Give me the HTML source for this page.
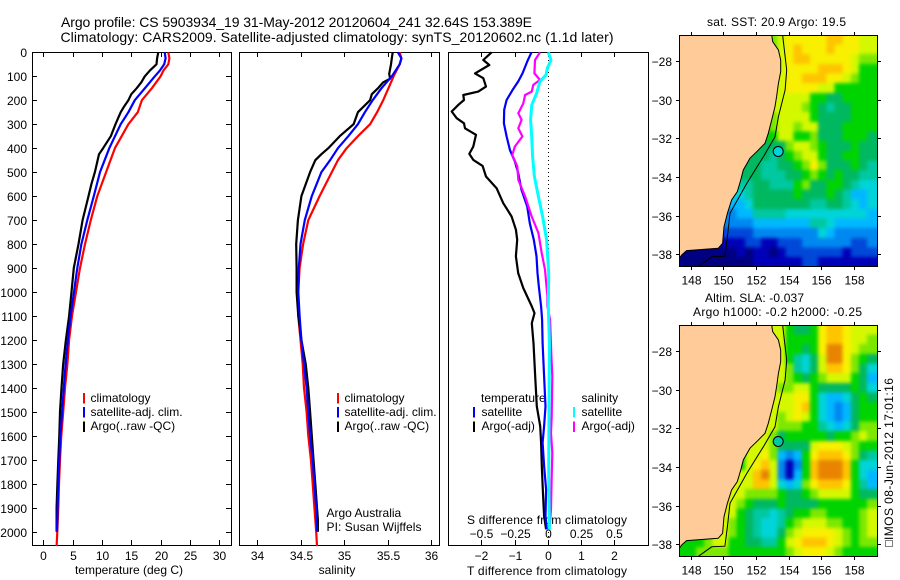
<!DOCTYPE html>
<html lang="en">
<head>
<meta charset="utf-8">
<title>Argo profile chart</title>
<style>
html,body{margin:0;padding:0;background:#fff;}
svg{display:block;}
text{font-family:"Liberation Sans",Arial,sans-serif;fill:#000;font-size:12px;}
.t{font-size:14px;}
</style>
</head>
<body>
<svg id="chart" xmlns="http://www.w3.org/2000/svg" width="900" height="580" viewBox="0 0 900 580">
<text class="t" x="61" y="27" textLength="471" lengthAdjust="spacing">Argo profile: CS 5903934_19 31-May-2012 20120604_241 32.64S 153.389E</text>
<text class="t" x="60.5" y="42" textLength="553" lengthAdjust="spacing">Climatology: CARS2009. Satellite-adjusted climatology: synTS_20120602.nc (1.1d later)</text>
<text x="129" y="574" text-anchor="middle">temperature (deg C)</text>
<text x="337" y="574" text-anchor="middle">salinity</text>
<text x="547" y="575" text-anchor="middle" textLength="160" lengthAdjust="spacing">T difference from climatology</text>
<text x="547" y="524" text-anchor="middle" textLength="160" lengthAdjust="spacing">S difference from climatology</text>
<text x="326.5" y="517">Argo Australia</text>
<text x="326.5" y="531" textLength="95" lengthAdjust="spacing">PI: Susan Wijffels</text>
<text x="90.5" y="402">climatology</text>
<text x="90.5" y="416">satellite-adj. clim.</text>
<text x="90.5" y="430">Argo(..raw -QC)</text>
<text x="344.5" y="402">climatology</text>
<text x="344.5" y="416">satellite-adj. clim.</text>
<text x="344.5" y="430">Argo(..raw -QC)</text>
<text x="481" y="402">temperature</text>
<text x="481.5" y="416">satellite</text>
<text x="481.5" y="430">Argo(-adj)</text>
<text x="581.5" y="402">salinity</text>
<text x="581.5" y="416">satellite</text>
<text x="581.5" y="430">Argo(-adj)</text>
<text x="707" y="26" textLength="139" lengthAdjust="spacing">sat. SST: 20.9 Argo: 19.5</text>
<text x="705" y="302" textLength="99" lengthAdjust="spacing">Altim. SLA: -0.037</text>
<text x="693" y="316" textLength="169" lengthAdjust="spacing">Argo h1000: -0.2 h2000: -0.25</text>
<text transform="translate(893,540) rotate(-90)" textLength="162" lengthAdjust="spacing">IMOS 08-Jun-2012 17:01:16</text>
<rect x="885.5" y="540.5" width="7" height="6" fill="none" stroke="#000" stroke-width="1" stroke-dasharray="1 1"/>
</svg>
<script>
const svgNS = 'http://www.w3.org/2000/svg';
// ---- temperature panel data (depth m, deg C)
const tempClimDepth = [0,25,50,75,100,150,200,250,300,400,500,600,700,800,900,1000,1100,1200,1300,1400,1500,1600,1700,1800,1900,2000,2060];
const tempClim = [21.3,21.5,21.3,20.5,20,18.5,16.8,16.1,14.5,12.2,10.7,9.2,8.1,7.1,6.25,5.57,4.9,4.4,4.1,3.7,3.4,3.07,2.84,2.67,2.56,2.39,2.27];
const tempSatDepth = [0,25,50,75,100,150,200,250,300,400,500,600,700,800,900,1000,1100,1200,1300,1400,1500,1600,1700,1800,1900,2000];
const tempSat = [20.7,20.85,20.6,19.9,19,17.3,15.6,14.5,13.2,11.25,9.66,8.6,7.5,6.5,5.8,5.23,4.66,4.2,3.8,3.5,3.2,2.9,2.73,2.56,2.44,2.33];
const tempArgoDepth = [0,25,50,75,100,125,150,175,200,225,250,300,350,400,425,500,550,600,700,800,900,1000,1100,1200,1300,1400,1500,1600,1700,1800,1900,2000];
const tempArgo = [19.6,19.4,19.3,18.2,17.3,16.7,15.9,15,14.5,13.8,13.2,12.3,11.5,10.2,9.5,8.8,8.2,7.7,6.7,6,5.2,4.8,4.4,3.86,3.4,3.1,2.84,2.72,2.56,2.4,2.27,2.27];
// ---- salinity panel data
const salClimDepth = [0,25,50,100,150,200,250,300,350,400,450,500,600,700,800,900,1000,1100,1200,1300,1400,1500,1600,1700,1800,1900,2000,2060];
const salClim = [35.64,35.66,35.64,35.57,35.51,35.45,35.38,35.3,35.16,35.03,34.93,34.86,34.72,34.59,34.53,34.49,34.475,34.475,34.5,34.525,34.54,34.57,34.59,34.62,34.64,34.66,34.68,34.69];
const salSatDepth = [0,25,50,100,150,200,250,300,350,400,450,500,600,700,800,900,1000,1100,1200,1300,1400,1500,1600,1700,1800,1900,2000];
const salSat = [35.62,35.66,35.64,35.55,35.43,35.33,35.24,35.16,35.05,34.93,34.84,34.74,34.63,34.55,34.5,34.48,34.475,34.49,34.51,34.54,34.57,34.59,34.61,34.64,34.66,34.68,34.69];
const salArgoDepth = [0,25,50,90,110,125,150,175,200,250,300,350,400,425,450,500,600,700,800,900,1000,1100,1200,1300,1400,1500,1600,1700,1800,1900,1950,2000];
const salArgo = [35.56,35.55,35.54,35.52,35.53,35.45,35.39,35.32,35.3,35.16,35.11,34.95,34.82,34.74,34.67,34.61,34.51,34.47,34.45,34.455,34.455,34.475,34.51,34.56,34.59,34.61,34.63,34.65,34.67,34.69,34.7,34.7];
// ---- difference panel data
const diffTArgoDepth = [0,32,53,88,108,143,164,178,199,219,247,275,296,317,344,393,424,449,474,518,567,629,685,740,782,851,921,983,1060,1088,1130,1213,1352,1477,1560,1629,1726,1824,1935,1990];
const diffTArgo = [-1.69,-1.94,-1.76,-2.19,-1.94,-1.86,-2.09,-2.54,-2.52,-2.69,-2.89,-2.74,-2.52,-2.49,-2.16,-2.24,-2.36,-2.24,-1.96,-1.86,-1.54,-1.34,-1.09,-0.96,-0.92,-0.96,-0.89,-0.74,-0.48,-0.4,-0.48,-0.43,-0.38,-0.33,-0.23,-0.2,-0.18,-0.15,-0.11,-0.05];
const diffTSatDepth = [0,39,88,122,157,199,240,296,351,407,456,504,574,643,713,782,851,921,976,1060,1115,1213,1352,1477,1560,1629,1726,1824,1935,1990];
const diffTSat = [-0.49,-0.62,-0.76,-0.89,-1.06,-1.24,-1.31,-1.32,-1.24,-1.14,-0.99,-0.89,-0.79,-0.62,-0.54,-0.42,-0.34,-0.31,-0.27,-0.2,-0.17,-0.155,-0.11,-0.07,-0.11,-0.155,-0.11,-0.05,-0.07,-0.03];
const diffSSatDepth = [0,32,67,94,122,171,219,282,351,435,518,601,685,782,921,1060,1213,1491,1769,1990];
const diffSSat = [0.004,0.024,-0.004,-0.013,-0.059,-0.084,-0.12,-0.129,-0.121,-0.114,-0.101,-0.071,-0.039,-0.009,0.007,0.004,0.012,0.009,0.007,0.012];
const diffSArgoDepth = [0,32,88,115,136,164,178,213,254,282,317,351,393,428,476,532,601,685,754,837,907,1018,1060,1115,1269,1352,1519,1588,1671,1769,1907,1990];
const diffSArgo = [-0.059,-0.096,-0.101,-0.059,-0.109,-0.121,-0.171,-0.184,-0.222,-0.197,-0.222,-0.191,-0.247,-0.267,-0.229,-0.222,-0.171,-0.121,-0.071,-0.046,-0.021,-0.003,-0.003,0.017,0.027,0.034,0.029,0.024,0.034,0.029,0.024,0.012];
// ---- tick values
const depthTicks = [0,100,200,300,400,500,600,700,800,900,1000,1100,1200,1300,1400,1500,1600,1700,1800,1900,2000];
const tempTicks = [0,5,10,15,20,25,30];
const salTicks = [34,34.5,35,35.5,36];
const diffTTicks = [-2,-1,0,1,2];
const diffSTicks = [-0.5,-0.25,0,0.25,0.5];
const lonTicks = [148,150,152,154,156,158];
const latTicks = [-28,-30,-32,-34,-36,-38];
// ---- map data: colour level per 0.5 degree cell, north to south, west to east
const sstGrid = [
[8,8,8,8,8,8,8,8,8,8,9,9,10,11,11,11,11,11,12,12,11,11,10,10],
[8,8,8,8,8,8,8,8,8,8,9,9,10,11,12,11,11,11,12,11,11,11,10,10],
[8,8,8,8,8,8,8,8,8,8,9,10,10,11,12,12,11,11,11,11,11,10,9,9],
[8,8,8,8,8,8,8,8,8,8,9,10,10,11,11,11,11,12,12,12,11,10,8,8],
[8,8,8,8,8,8,8,8,8,8,9,10,10,11,11,12,12,12,11,11,10,9,8,8],
[8,8,8,8,8,8,8,8,8,8,9,10,10,11,11,11,11,10,10,8,8,8,8,8],
[8,8,8,8,8,8,8,8,8,8,9,10,10,10,10,10,8,8,7,7,8,8,8,8],
[8,8,8,8,8,8,8,8,8,8,9,10,10,10,10,9,8,7,6,7,7,8,8,8],
[8,8,8,8,8,8,8,8,8,8,9,9,10,10,10,10,8,7,7,7,7,8,8,8],
[8,8,8,8,8,8,8,8,8,8,8,9,10,10,9,10,10,7,7,7,8,8,8,8],
[8,8,8,8,8,8,8,8,8,8,8,8,10,10,8,8,9,7,7,7,8,8,8,7],
[7,7,7,7,7,7,7,7,7,7,7,7,7,9,10,10,9,8,7,7,7,8,7,7],
[7,7,7,7,7,7,7,7,7,7,7,6,7,8,9,10,10,8,7,7,8,8,7,7],
[7,7,7,7,7,7,7,7,7,7,6,6,7,7,8,9,11,9,7,7,7,8,7,6],
[7,7,7,7,7,7,7,7,7,7,6,6,6,7,7,8,9,8,7,8,7,7,6,6],
[6,6,6,6,6,6,6,6,6,7,7,6,6,6,8,9,7,7,8,8,7,6,5,5],
[5,5,5,5,5,5,5,5,6,7,7,7,7,7,8,7,7,7,8,7,6,4,4,5],
[4,4,4,4,4,4,4,4,5,7,7,7,7,7,7,7,6,6,7,7,6,5,4,5],
[3,3,3,3,3,3,3,4,4,6,6,6,6,5,5,5,5,5,5,5,5,5,5,4],
[3,3,3,3,3,3,3,3,3,4,4,4,4,4,4,4,6,6,5,4,4,4,4,4],
[2,2,2,2,2,2,2,2,2,3,3,3,3,3,3,3,3,5,4,3,3,3,3,3],
[1,1,1,1,1,1,1,1,2,2,1,1,2,2,2,3,3,3,3,3,3,2,2,3],
[0,0,0,0,0,0,0,1,0,1,1,0,1,2,2,2,2,2,2,2,1,2,2,2],
[0,0,0,0,0,0,0,0,0,1,1,1,1,1,1,2,2,1,1,1,1,1,1,1]
];
const slaGrid = [
[8,8,8,8,8,8,8,8,8,10,10,10,10,8,7,7,8,11,12,12,11,10,10,10],
[8,8,8,8,8,8,8,8,8,10,10,10,10,8,8,8,8,11,12,12,11,10,10,9],
[8,8,8,8,8,8,8,8,8,10,10,10,10,8,8,7,8,11,13,13,11,10,9,9],
[8,8,8,8,8,8,8,8,8,10,10,10,10,8,6,5,7,10,13,13,11,9,8,7],
[8,8,8,8,8,8,8,8,8,10,10,10,10,9,6,5,7,10,12,12,11,9,7,5],
[8,8,8,8,8,8,8,8,8,10,10,10,10,9,8,7,8,9,10,10,10,8,7,4],
[8,8,8,8,8,8,8,8,8,10,10,10,9,9,10,10,8,7,7,7,7,8,7,5],
[8,8,8,8,8,8,8,8,8,10,10,10,10,10,11,11,8,5,4,4,5,7,8,7],
[8,8,8,8,8,8,8,8,8,10,10,10,10,10,11,12,8,5,4,3,4,7,8,8],
[8,8,8,8,8,8,8,8,8,10,10,10,9,10,11,10,8,5,4,3,4,7,8,8],
[8,8,8,8,8,8,8,8,8,10,10,10,9,9,9,8,8,6,5,4,5,7,9,9],
[8,8,8,8,8,8,8,8,10,10,10,9,7,8,8,8,8,8,7,8,8,9,10,9],
[8,8,8,8,8,8,8,8,10,10,10,9,7,7,7,7,10,11,11,11,10,9,8,8],
[8,8,8,8,8,8,8,8,10,10,11,9,4,3,4,8,11,12,12,12,11,9,7,6],
[8,8,8,8,8,8,8,8,10,11,12,10,3,1,3,8,12,13,13,13,12,8,5,5],
[8,8,8,8,8,8,8,10,10,12,13,10,3,1,4,8,12,13,13,13,12,8,5,4],
[8,8,8,8,8,8,10,10,10,12,12,10,5,4,5,9,11,12,12,12,11,8,6,4],
[8,8,8,8,8,10,10,10,9,9,9,9,8,7,7,8,9,10,10,10,10,8,7,7],
[8,8,8,8,8,10,10,9,8,7,7,7,8,7,7,7,7,8,8,8,8,8,8,9],
[8,8,8,8,10,10,10,8,7,6,6,5,6,7,8,8,9,9,8,8,8,8,9,10],
[8,8,8,8,10,10,9,8,7,6,5,5,6,8,9,10,10,10,9,9,8,8,9,10],
[8,8,8,8,10,10,9,8,7,6,5,5,7,9,10,11,11,11,11,10,9,8,9,10],
[8,8,8,9,10,10,8,8,7,7,6,6,8,10,11,12,12,12,11,10,9,8,9,9],
[8,8,9,9,9,9,8,8,8,8,8,8,8,9,10,11,11,11,10,9,8,8,8,8]
];
const coastLon = [152.97,153.03,153.38,153.52,153.52,153.38,153.27,153.17,152.97,152.76,152.56,152.05,151.64,151.23,151.07,150.86,150.51,150.25,150.04,149.96,149.69,147.75,147.45,147.3];
const coastLat = [-26.66,-27,-27.43,-27.95,-28.55,-29.16,-29.84,-30.36,-31.05,-31.74,-32.26,-32.69,-33.03,-33.64,-34.16,-34.76,-35.19,-35.88,-36.57,-37.43,-37.69,-37.81,-38.03,-38.21];
const isobathLon = [153.64,153.89,153.79,153.38,153.17,152.46,151.44,150.41,150.25,150.1,149.29,148.47];
const isobathLat = [-26.65,-28.47,-29.5,-30.88,-31.92,-32.95,-34.33,-35.88,-37.09,-38.1,-38.13,-38.62];
const argoLon = [153.37];
const argoLat = [-32.68];
const sstArgoLevel = [5];
const slaArgoLevel = [6];
const levelColors = ['#000080','#0000b8','#0048d8','#0088f0','#00b8ff','#00d4d8','#00c8a0','#00b860','#00d400','#7ce800','#d4f800','#f8f000','#ffc400','#e88400'];

const root = document.getElementById('chart');
const DEPTH_TOP = 52.3, DEPTH_SCALE = 0.2397;
const yDepth = d => DEPTH_TOP + DEPTH_SCALE * d;
const xTemp = v => 43.3 + 5.867 * v;
const xSal = v => 257 + 87 * (v - 34);
const xDT = v => 547.8 + 33.25 * v;
const xDS = v => 547.8 + 133 * v;

function mk(tag, name, attrs, parent) {
  const el = document.createElementNS(svgNS, tag);
  
  
  for (const k in attrs) el.setAttribute(k, attrs[k]);
  (parent || root).appendChild(el);
  return el;
}
function label(txt, x, y, anchor, name) {
  const el = mk('text', name, {x: x, y: y, 'text-anchor': anchor});
  el.textContent = txt;
  return el;
}
const fmt = v => String(v).replace('-', '\u2212');

function frame(x0, y0, x1, y1, name) {
  mk('rect', name, {x: x0 + .5, y: y0 + .5, width: x1 - x0, height: y1 - y0, fill: 'none', stroke: '#000', 'stroke-width': 1, 'shape-rendering': 'crispEdges'});
}
function line(x1, y1, x2, y2, name) {
  mk('line', name, {x1: x1, y1: y1, x2: x2, y2: y2, stroke: '#000', 'stroke-width': 1, 'shape-rendering': 'crispEdges'});
}
function profile(xFn, vals, depths, color, width, name) {
  const pts = vals.map((v, i) => xFn(v).toFixed(1) + ',' + yDepth(depths[i]).toFixed(1)).join(' ');
  mk('polyline', name, {points: pts, fill: 'none', stroke: color, 'stroke-width': width, 'stroke-linejoin': 'round'});
}
function legendBar(x, y, color, name) {
  mk('rect', name, {x: x, y: y, width: 2, height: 10.5, fill: color, 'shape-rendering': 'crispEdges'});
}

// panels
const FT = 52, FB = 545;
const panels = [[32, 231, 'temp'], [239, 439, 'sal'], [448, 648, 'diff']];
panels.forEach(p => frame(p[0], FT, p[1], FB, 'panel-frame-' + p[2]));

// depth axis
depthTicks.forEach(d => {
  const y = Math.round(yDepth(d)) + .5;
  label(String(d), 27, y + 4.5, 'end', 'depth-tick-label');
  if (d > 0) {
    line(32, y, 37, y, 'depth-tick-left');
    line(226, y, 231, y, 'depth-tick-right');
  }
});
function xAxis(ticks, xFn, axis, labelY, fmtFn) {
  ticks.forEach(v => {
    const x = Math.round(xFn(v)) + .5;
    line(x, FT, x, FT + 5, axis + '-tick-top');
    line(x, FB, x, FB - 5, axis + '-tick-bottom');
    label(fmtFn(v), x, labelY, 'middle', axis + '-tick-label');
  });
}
xAxis(tempTicks, xTemp, 'temperature', 560, fmt);
xAxis(salTicks, xSal, 'salinity', 560, fmt);
xAxis(diffTTicks, xDT, 't-difference', 560, fmt);
diffSTicks.forEach(v => {
  label(fmt(v), Math.round(xDS(v)) + .5, 538, 'middle', 's-difference-tick-label');
});

// series
profile(xTemp, tempClim, tempClimDepth, '#ff0000', 2.2, 'temperature-climatology-line');
profile(xTemp, tempArgo, tempArgoDepth, '#000000', 2.2, 'temperature-argo-line');
profile(xTemp, tempSat, tempSatDepth, '#0000ff', 2.2, 'temperature-satellite-line');
profile(xSal, salClim, salClimDepth, '#ff0000', 2.2, 'salinity-climatology-line');
profile(xSal, salArgo, salArgoDepth, '#000000', 2.2, 'salinity-argo-line');
profile(xSal, salSat, salSatDepth, '#0000ff', 2.2, 'salinity-satellite-line');
mk('line', 'zero-difference-line', {x1: 548.5, y1: FT, x2: 548.5, y2: FB, stroke: '#000', 'stroke-width': 1, 'stroke-dasharray': '1 3', 'shape-rendering': 'crispEdges'});
profile(xDT, diffTArgo, diffTArgoDepth, '#000000', 2.2, 't-difference-argo-line');
profile(xDT, diffTSat, diffTSatDepth, '#0000ff', 2.2, 't-difference-satellite-line');
profile(xDS, diffSArgo, diffSArgoDepth, '#ff00ff', 2.2, 's-difference-argo-line');
profile(xDS, diffSSat, diffSSatDepth, '#00ffff', 3, 's-difference-satellite-line');

// legends
legendBar(83, 393, '#ff0000', 'legend-swatch-climatology-temp');
legendBar(83, 407, '#0000ff', 'legend-swatch-satellite-temp');
legendBar(83, 421.5, '#000000', 'legend-swatch-argo-temp');
legendBar(337, 393, '#ff0000', 'legend-swatch-climatology-sal');
legendBar(337, 407, '#0000ff', 'legend-swatch-satellite-sal');
legendBar(337, 421.5, '#000000', 'legend-swatch-argo-sal');
legendBar(473, 407, '#0000ff', 'legend-swatch-satellite-t-diff');
legendBar(473, 421.5, '#000000', 'legend-swatch-argo-t-diff');
legendBar(573, 407, '#00ffff', 'legend-swatch-satellite-s-diff');
legendBar(573, 421.5, '#ff00ff', 'legend-swatch-argo-s-diff');

// maps
const MAP_X0 = 679, MAP_X1 = 877;
const LON0 = 147.32, LAT_TOP = -26.65, CELL = 0.5;
const xLon = lon => 690.7 + 16.3 * (lon - 148);
const soften = mk('filter', 'map-soften-filter', {id: 'map-soften', filterUnits: 'userSpaceOnUse', x: 640, y: 0, width: 260, height: 580, 'color-interpolation-filters': 'sRGB'});
mk('feGaussianBlur', 'map-soften-blur', {stdDeviation: 1.8}, soften);
function drawMap(grid, top, bottom, yLat28, argoLevel, key) {
  const yLat = lat => yLat28 + 19.33 * (-28 - lat);
  const clipId = 'clip-' + key;
  const defs = mk('clipPath', key + '-clip', {id: clipId});
  mk('rect', key + '-clip-rect', {x: MAP_X0, y: top, width: MAP_X1 - MAP_X0, height: bottom - top}, defs);
  const g = mk('g', key + '-map', {'clip-path': 'url(#' + clipId + ')'});
  const cells = mk('g', key + '-cells', {filter: 'url(#map-soften)', 'shape-rendering': 'crispEdges'}, g);
  const PAD = 20;
  grid.forEach((row, r) => row.forEach((v, c) => {
    let x0 = xLon(LON0 + c * CELL), x1 = xLon(LON0 + (c + 1) * CELL);
    let y0 = yLat(LAT_TOP - r * CELL), y1 = yLat(LAT_TOP - (r + 1) * CELL);
    if (c === 0) x0 -= PAD;
    if (c === row.length - 1) x1 += PAD;
    if (r === 0) y0 -= PAD;
    if (r === grid.length - 1) y1 += PAD;
    mk('rect', key + '-cell', {x: x0.toFixed(1), y: y0.toFixed(1), width: (x1 - x0 + .6).toFixed(1), height: (y1 - y0 + .6).toFixed(1), fill: levelColors[v]}, cells);
  }));
  const coastPts = coastLon.map((lon, i) => xLon(lon).toFixed(1) + ',' + yLat(coastLat[i]).toFixed(1));
  mk('polygon', key + '-land', {points: coastPts.join(' ') + ' ' + xLon(147.3).toFixed(1) + ',' + yLat(LAT_TOP).toFixed(1), fill: '#ffcc99', stroke: 'none'}, g);
  mk('polyline', key + '-coastline', {points: coastPts.join(' '), fill: 'none', stroke: '#000', 'stroke-width': 1}, g);
  const isoPts = isobathLon.map((lon, i) => xLon(lon).toFixed(1) + ',' + yLat(isobathLat[i]).toFixed(1)).join(' ');
  mk('polyline', key + '-isobath', {points: isoPts, fill: 'none', stroke: '#000', 'stroke-width': 1}, g);
  mk('circle', key + '-argo-location', {cx: xLon(argoLon[0]).toFixed(1), cy: yLat(argoLat[0]).toFixed(1), r: 5, fill: levelColors[argoLevel[0]], stroke: '#000', 'stroke-width': 1});
  frame(MAP_X0, top, MAP_X1, bottom, key + '-map-frame');
  lonTicks.forEach(lon => {
    const x = Math.round(xLon(lon)) + .5;
    line(x, top, x, top - 3, key + '-lon-tick-top');
    line(x, bottom + .5, x, bottom + 4, key + '-lon-tick-bottom');
    label(String(lon), x, bottom + 18.5, 'middle', key + '-lon-tick-label');
  });
  latTicks.forEach(lat => {
    const y = Math.round(yLat(lat)) + .5;
    line(MAP_X0, y, MAP_X0 - 3, y, key + '-lat-tick-left');
    line(MAP_X1 + 1, y, MAP_X1 + 4, y, key + '-lat-tick-right');
    label(fmt(lat), 672, y + 4.5, 'end', key + '-lat-tick-label');
  });
}
drawMap(sstGrid, 35, 266, 61, sstArgoLevel, 'sst');
drawMap(slaGrid, 325, 556, 351, slaArgoLevel, 'sla');
</script>
</body>
</html>
